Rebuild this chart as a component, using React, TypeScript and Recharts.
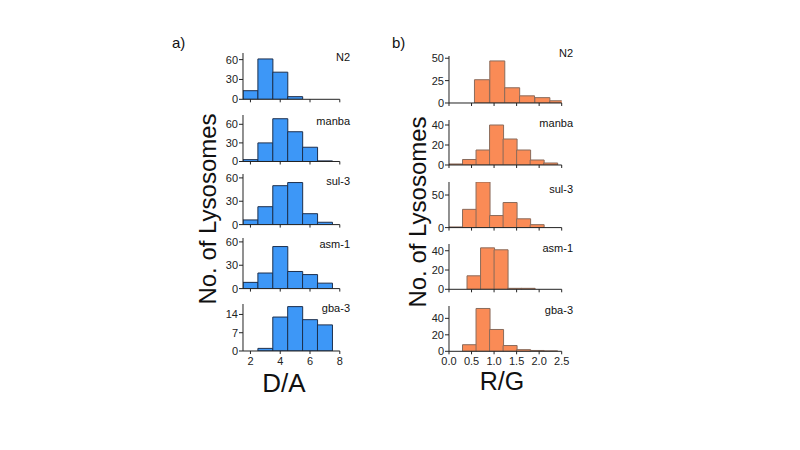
import React from 'react';
import { BarChart, Bar, XAxis, YAxis } from 'recharts';

// D/A histograms (bin centres, counts per strain)
const daBins = [2, 3, 4, 5, 6, 7];
const daN2 = [13, 61, 41, 4, 0, 0];
const daManba = [3, 30, 69, 48, 23, 1];
const daSul3 = [6, 23, 50, 54, 14, 3];
const daAsm1 = [8, 20, 54, 22, 18, 7];
const daGba3 = [0, 1, 13, 17, 12, 10];

// R/G histograms
const rgN2Bins = [0.73, 1.07, 1.4, 1.73, 2.07, 2.4];
const rgN2 = [26, 47, 17, 8, 6, 2.5];
const rgBins = [0.15, 0.45, 0.75, 1.05, 1.35, 1.65, 1.95, 2.25];
const rgManba = [1, 5.5, 15, 40, 26, 15, 5, 2];
const rgSul3 = [1, 28, 70, 18.5, 38.5, 13.5, 4.5, 0];
const rgAsm1Bins = [0.55, 0.85, 1.15, 1.45, 1.75];
const rgAsm1 = [14, 43, 41, 1, 1];
const rgGba3 = [0, 8, 52, 26.5, 7, 2, 1, 0.5];

const strains = ['N2', 'manba', 'sul-3', 'asm-1', 'gba-3'];
const daTicks = [2, 4, 6, 8];
const rgTicks = [0, 0.5, 1, 1.5, 2, 2.5];

const toData = (bins: number[], counts: number[]) => bins.map((x, i) => ({ x, count: counts[i] }));

const FONT = '"Liberation Sans", Arial, sans-serif';
const AXIS = '#222';

interface SubplotProps {
  data: { x: number; count: number }[];
  xDomain: [number, number];
  xTicks: number[];
  yDomain: [number, number];
  yTicks: number[];
  plotLeft: number;
  plotW: number;
  plotTop: number;
  plotBottom: number;
  fill: string;
  stroke: string;
  showX: boolean;
  fmtX: (v: number) => string;
}

const Subplot: React.FC<SubplotProps> = (p) => {
  const plotH = p.plotBottom - p.plotTop;
  const tickStyle = { fontSize: 11, fill: '#222', fontFamily: FONT };
  return (
    <div style={{ position: 'absolute', left: p.plotLeft - 40, top: p.plotTop - 5 }}>
      <BarChart
        width={40 + p.plotW + 14}
        height={5 + plotH + 22}
        data={p.data}
        margin={{ top: 5, right: 14, left: 0, bottom: 0 }}
        barCategoryGap={0}
        barGap={0}
      >
        <XAxis
          dataKey="x"
          type="number"
          domain={p.xDomain}
          ticks={p.xTicks}
          allowDataOverflow
          height={22}
          stroke={AXIS}
          tickSize={3}
          tickMargin={3}
          tick={tickStyle}
          tickFormatter={(v: number) => (p.showX ? p.fmtX(v) : '')}
          interval={0}
        />
        <YAxis
          type="number"
          domain={p.yDomain}
          ticks={p.yTicks}
          allowDataOverflow
          width={40}
          stroke={AXIS}
          tickSize={4}
          tickMargin={1}
          tick={tickStyle}
          interval={0}
        />
        <Bar dataKey="count" fill={p.fill} stroke={p.stroke} strokeWidth={1} isAnimationActive={false} />
      </BarChart>
    </div>
  );
};

const leftRows = [
  { data: toData(daBins, daN2), yDomain: [0, 70], yTicks: [0, 30, 60], top: 52.7, bottom: 99 },
  { data: toData(daBins, daManba), yDomain: [0, 75], yTicks: [0, 30, 60], top: 115, bottom: 161.5 },
  { data: toData(daBins, daSul3), yDomain: [0, 65], yTicks: [0, 30, 60], top: 174.4, bottom: 225 },
  { data: toData(daBins, daAsm1), yDomain: [0, 65], yTicks: [0, 30, 60], top: 237.7, bottom: 288.3 },
  { data: toData(daBins, daGba3), yDomain: [0, 18], yTicks: [0, 7, 14], top: 304, bottom: 351 },
];

const rightRows = [
  { data: toData(rgN2Bins, rgN2), yDomain: [0, 52.5], yTicks: [0, 25, 50], top: 56, bottom: 103 },
  { data: toData(rgBins, rgManba), yDomain: [0, 45], yTicks: [0, 20, 40], top: 120, bottom: 165 },
  { data: toData(rgBins, rgSul3), yDomain: [0, 70], yTicks: [0, 50], top: 181.7, bottom: 227.3 },
  { data: toData(rgAsm1Bins, rgAsm1), yDomain: [0, 47], yTicks: [0, 20, 40], top: 244, bottom: 289.3 },
  { data: toData(rgBins, rgGba3), yDomain: [0, 55], yTicks: [0, 20, 40], top: 305.7, bottom: 351 },
];

const leftLabelY = [57, 121, 181, 244, 308];
const rightLabelY = [53, 123, 189, 248, 310];

export default function App() {
  return (
    <div style={{ position: 'absolute', left: 0, top: 0, width: 800, height: 450, background: '#fff', fontFamily: FONT }}>
      {leftRows.map((r, i) => (
        <Subplot
          key={'l' + i}
          data={r.data}
          xDomain={[1.5, 8]}
          xTicks={daTicks}
          yDomain={r.yDomain as [number, number]}
          yTicks={r.yTicks}
          plotLeft={242.5}
          plotW={96.8}
          plotTop={r.top}
          plotBottom={r.bottom}
          fill="#3d97f7"
          stroke="#1c2e4c"
          showX={i === leftRows.length - 1}
          fmtX={(v) => String(v)}
        />
      ))}
      {rightRows.map((r, i) => (
        <Subplot
          key={'r' + i}
          data={r.data}
          xDomain={[0, 2.5]}
          xTicks={rgTicks}
          yDomain={r.yDomain as [number, number]}
          yTicks={r.yTicks}
          plotLeft={449}
          plotW={112.7}
          plotTop={r.top}
          plotBottom={r.bottom}
          fill="#fa8b56"
          stroke="#8a6a5a"
          showX={i === rightRows.length - 1}
          fmtX={(v) => v.toFixed(1)}
        />
      ))}
      <svg width={800} height={450} style={{ position: 'absolute', left: 0, top: 0, pointerEvents: 'none' }}>
        <g fontFamily={FONT} fill="#111">
          <text x={172} y={48} fontSize={15}>a)</text>
          <text x={392} y={48} fontSize={15}>b)</text>
          {strains.map((s, i) => (
            <text key={'ll' + s} x={350} y={leftLabelY[i] + 4} fontSize={11} textAnchor="end">{s}</text>
          ))}
          {strains.map((s, i) => (
            <text key={'rl' + s} x={573} y={rightLabelY[i] + 4} fontSize={11} textAnchor="end">{s}</text>
          ))}
          <text x={0} y={0} fontSize={24} textAnchor="middle" transform="translate(216,209) rotate(-90)">No. of Lysosomes</text>
          <text x={0} y={0} fontSize={24} textAnchor="middle" transform="translate(426,212) rotate(-90)">No. of Lysosomes</text>
          <text x={284} y={392} fontSize={26} textAnchor="middle">D/A</text>
          <text x={502} y={390} fontSize={25} textAnchor="middle">R/G</text>
        </g>
      </svg>
    </div>
  );
}
